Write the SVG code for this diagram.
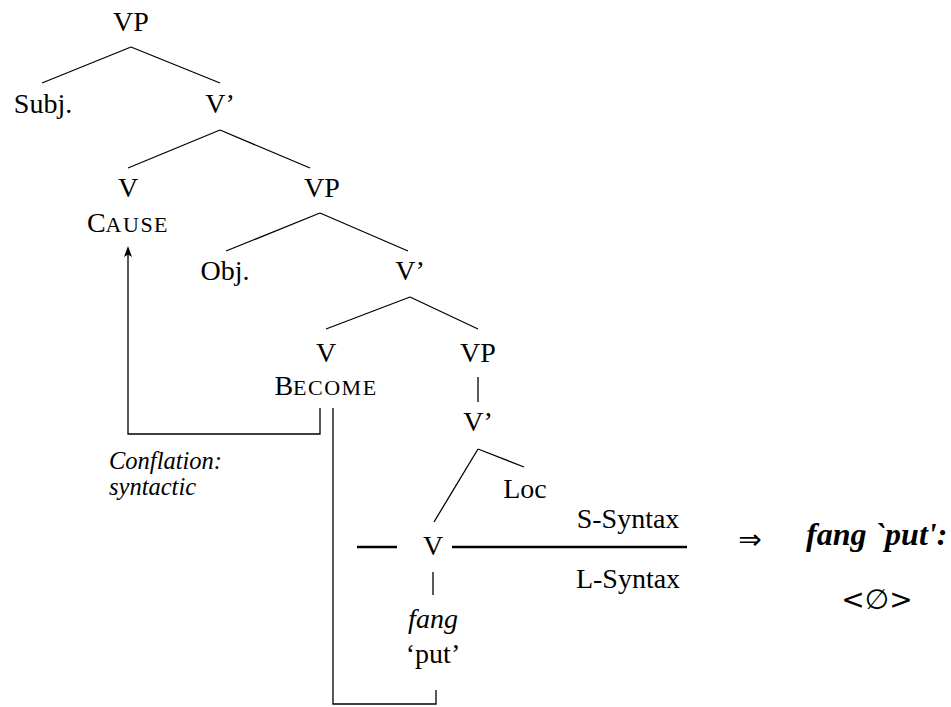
<svg xmlns="http://www.w3.org/2000/svg" width="951" height="707" viewBox="0 0 951 707">
  <style>
    .t { font-family: "Liberation Serif", "Times New Roman", serif; font-size: 28px; fill: #000; text-anchor: middle; }
    .scs { font-size: 22px; letter-spacing: 1.5px; }
    .it { font-style: italic; }
    .lbl { font-size: 24.5px; font-style: italic; text-anchor: start; }
    .res { font-style: italic; font-weight: bold; font-size: 32px; text-anchor: start; }
    .sym { font-family: "DejaVu Sans", sans-serif; }
    .branch { stroke: #000; stroke-width: 1.3; fill: none; }
    .bar { stroke: #000; stroke-width: 2.6; fill: none; }
  </style>

  <!-- tree branches and conflation paths -->
  <g id="connectors">
    <path class="branch" d="M131,47 L42,83 M131,47 L220,83"/>
    <path class="branch" d="M220,130 L128,168 M220,130 L310,168"/>
    <path class="branch" d="M320,213 L226,251 M320,213 L408,251"/>
    <path class="branch" d="M410,297 L326,329 M410,297 L478,329"/>
    <path class="branch" d="M478,377 L478,402"/>
    <path class="branch" d="M478,449 L434,522 M478,449 L524,467"/>
    <path class="branch" d="M433,572 L433,595"/>
    <path class="bar" d="M357,547 L397,547 M452,547 L687,547"/>
    <path class="branch" d="M320,408 L320,434 L128,434 L128,252"/>
    <path d="M128,246 L132,257 L128,254.5 L124,257 z" fill="#000"/>
    <path class="branch" d="M333,408 L333,704 L436,704 L436,690"/>
  </g>

  <g id="vp1"><text class="t" x="131" y="31">VP</text></g>
  <g id="subj"><text class="t" x="43" y="113">Subj.</text></g>
  <g id="vbar1"><text class="t" x="220" y="113">V’</text></g>
  <g id="v-cause">
    <text class="t" x="128" y="197">V</text>
    <text class="t" x="128" y="232">C<tspan class="scs">AUSE</tspan></text>
  </g>
  <g id="vp2"><text class="t" x="322" y="197">VP</text></g>
  <g id="obj"><text class="t" x="225" y="280">Obj.</text></g>
  <g id="vbar2"><text class="t" x="410" y="280">V’</text></g>
  <g id="v-become">
    <text class="t" x="326" y="362">V</text>
    <text class="t" x="326" y="395">B<tspan class="scs">ECOME</tspan></text>
  </g>
  <g id="vp3"><text class="t" x="478" y="362">VP</text></g>
  <g id="vbar3"><text class="t" x="478" y="431">V’</text></g>
  <g id="loc"><text class="t" x="525" y="498">Loc</text></g>
  <g id="v-fang">
    <text class="t" x="433" y="555">V</text>
    <text class="t it" x="433" y="628">fang</text>
    <text class="t" x="433" y="663">‘put’</text>
  </g>
  <g id="levels">
    <text class="t" x="628" y="528">S-Syntax</text>
    <text class="t" x="628" y="588">L-Syntax</text>
  </g>
  <g id="conflation">
    <text class="t lbl" x="109" y="469">Conflation:</text>
    <text class="t lbl" x="109" y="495">syntactic</text>
  </g>
  <g id="result">
    <text class="t sym" x="750" y="549" style="font-size:28px">⇒</text>
    <text class="t res" x="806" y="545">fang `put':</text>
    <text class="t sym" x="877" y="609" style="font-size:28px">&lt;∅&gt;</text>
  </g>
</svg>
